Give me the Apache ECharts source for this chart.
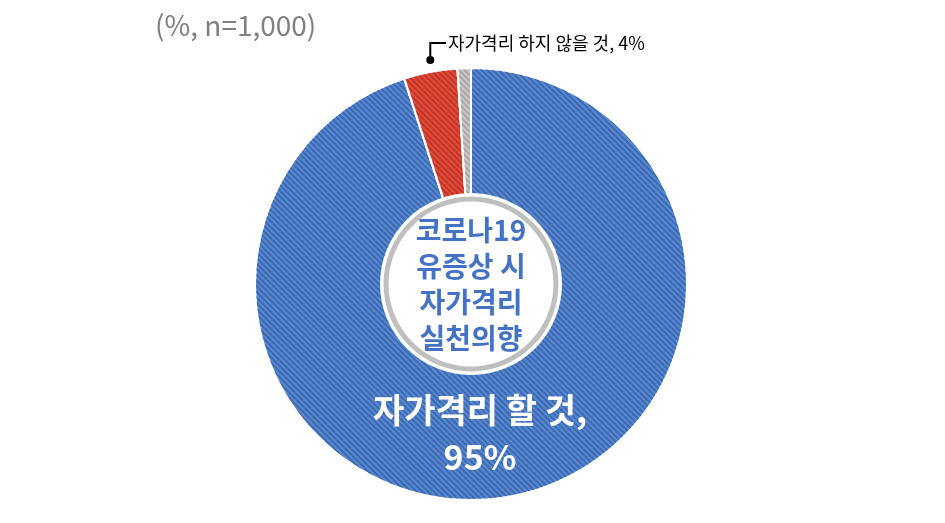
<!DOCTYPE html>
<html>
<head>
<meta charset="utf-8">
<script src="https://cdn.jsdelivr.net/npm/echarts@6/dist/echarts.min.js"></script>
<style>
html,body{margin:0;padding:0;background:#fff;}
#main{width:945px;height:523px;}
</style>
</head>
<body>
<div id="main"></div>
<script>
const categories = ['자가격리 할 것', '자가격리 하지 않을 것', '모름/무응답'];
const values = [95, 4, 1];
const centerTitle = ['코로나19', '유증상 시', '자가격리', '실천의향'];
const note = '(%, n=1,000)';

const FONT = '"Noto Sans CJK KR", "Noto Sans", sans-serif';
const CX = 471, CY = 284, R = 216;

const chart = echarts.init(document.getElementById('main'), null, {renderer: 'canvas'});

const sliceStyles = [
  {color: '#5788D2', decal: {symbol: 'rect', symbolSize: 1, color: '#3D69B0', dashArrayX: [1, 0], dashArrayY: [2, 2], rotation: Math.PI / 4}},
  {color: '#E24B3A', decal: {symbol: 'rect', symbolSize: 1, color: '#C13526', dashArrayX: [1, 0], dashArrayY: [2, 2], rotation: Math.PI / 4}},
  {color: '#C8C8C8', decal: {symbol: 'rect', symbolSize: 1, color: '#A8A8A8', dashArrayX: [1, 0], dashArrayY: [2, 2], rotation: Math.PI / 4}}
];

const pieData = categories.map((name, i) => {
  const d = {name: name, value: values[i], itemStyle: Object.assign({borderColor: '#fff', borderWidth: 2}, sliceStyles[i])};
  if (i === 0) {
    d.label = {show: true, position: 'inside', formatter: '{b},\n{c}%', color: '#fff', fontSize: 34, fontWeight: 'bold', lineHeight: 47, fontFamily: FONT, align: 'center'};
  } else if (i === 1) {
    d.label = {show: true, position: 'outside', formatter: '{b}, {c}%', color: '#000', fontSize: 18, fontFamily: FONT};
    d.labelLine = {show: true, lineStyle: {color: '#000', width: 2}};
  } else {
    d.label = {show: false};
    d.labelLine = {show: false};
  }
  return d;
});

// leader dot for the small slice, angle derived from data
const total = values.reduce((a, b) => a + b, 0);
const midFrac = (values[0] + values[1] / 2) / total;
const ang = midFrac * 2 * Math.PI; // clockwise from top
const dotR = R + 12;
const dotX = CX + dotR * Math.sin(ang) + 2;
const dotY = CY - dotR * Math.cos(ang);

const option = {
  animation: false,
  backgroundColor: '#fff',
  graphic: [
    {type: 'text', left: 155, top: 11, style: {text: note, fill: '#7F7F7F', font: '28px ' + FONT}},
    {type: 'circle', shape: {cx: dotX, cy: dotY, r: 4}, style: {fill: '#000'}, z: 10}
  ],
  series: [
    {
      type: 'pie',
      center: [CX, CY],
      radius: [80, R],
      startAngle: 90,
      clockwise: true,
      silent: true,
      data: pieData,
      labelLine: {length: 15, length2: 12},
      labelLayout: function (params) {
        if (params.dataIndex === 0) {
          return {x: 480, y: 434, align: 'center', verticalAlign: 'middle'};
        }
        if (params.dataIndex === 1) {
          return {
            x: 448, y: 43, align: 'left', verticalAlign: 'middle',
            labelLinePoints: [[dotX, dotY], [dotX, 43], [446, 43]]
          };
        }
        return {};
      }
    },
    {
      type: 'pie',
      center: [CX, CY],
      radius: [0, 91],
      silent: true,
      z: 3,
      label: {show: false},
      labelLine: {show: false},
      data: [{value: 1, name: 'bg', itemStyle: {color: '#fff'}}]
    },
    {
      type: 'pie',
      center: [CX, CY],
      radius: [0, 85],
      silent: true,
      z: 4,
      labelLine: {show: false},
      label: {
        show: true, position: 'center', formatter: centerTitle.join('\n'),
        color: '#4472C4', fontSize: 28, fontWeight: 'bold', lineHeight: 36, fontFamily: FONT
      },
      data: [{value: 1, name: 'title', itemStyle: {color: '#fff', borderColor: '#BFBFBF', borderWidth: 5}}]
    }
  ]
};
chart.setOption(option);
</script>
</body>
</html>
